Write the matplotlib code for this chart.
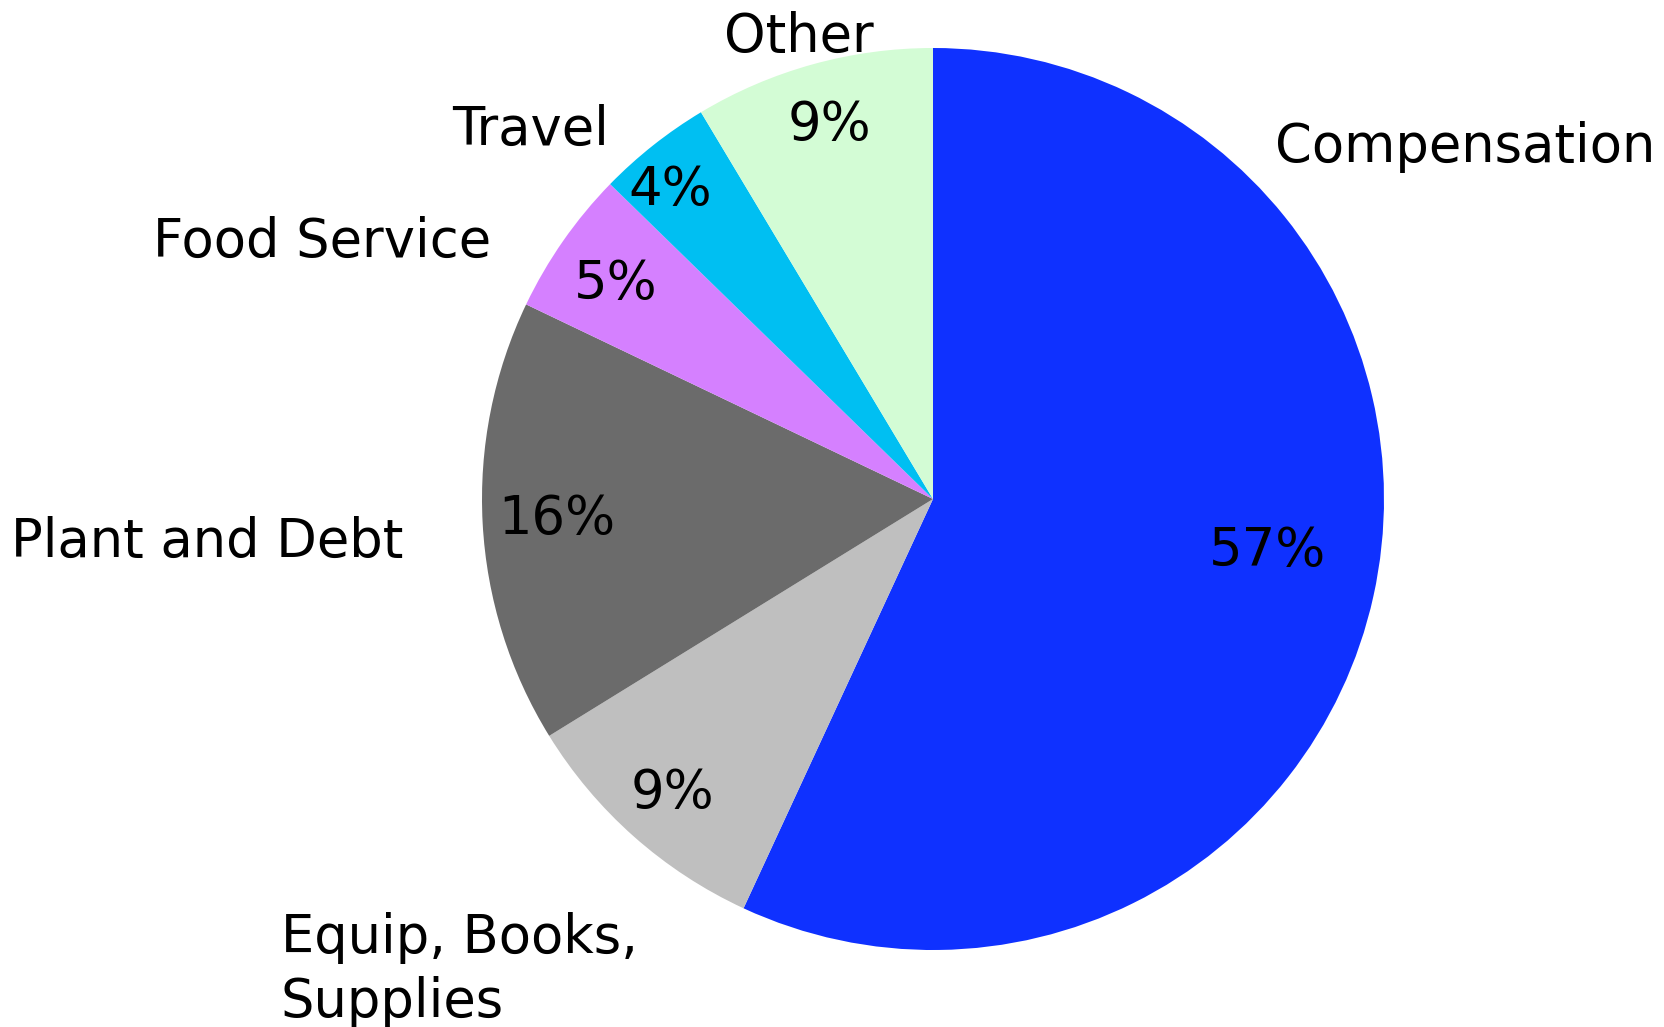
import numpy as np
import matplotlib.pyplot as plt

# data
categories = ["Compensation", "Equip, Books,\nSupplies", "Plant and Debt",
              "Food Service", "Travel", "Other"]
shares = [56.9, 9.3, 15.9, 5.2, 4.1, 8.6]
colors = ["#0f31ff", "#bfbfbf", "#6b6b6b", "#d580ff", "#00bff2", "#d3fcd5"]

# placement of each percent label: distance from centre (fraction of radius)
# and a small angular nudge in degrees
pct_dist = [0.75, 0.87, 0.836, 0.85, 0.9, 0.86]
pct_shift = [3.5, 0, 0, 0.8, 2.0, 0]

W, H = 1665, 1027
fig = plt.figure(figsize=(W / 100, H / 100), dpi=100)
ax = fig.add_axes([0, 0, 1, 1])

cx, cy, r = 933, 528, 451
wedges, texts, autotexts = ax.pie(
    shares, colors=colors, startangle=90, counterclock=False,
    center=(cx, cy), radius=r, frame=False,
    autopct="%.0f%%", pctdistance=1.0,
    wedgeprops=dict(linewidth=0),
    textprops=dict(fontsize=38, color="black"),
)

for w, t, d, s in zip(wedges, autotexts, pct_dist, pct_shift):
    ang = np.deg2rad((w.theta1 + w.theta2) / 2 + s)
    t.set_position((cx + d * r * np.cos(ang), cy + d * r * np.sin(ang)))
    t.set_ha("center")
    t.set_va("center")

# category labels placed around the pie
label_pos = {
    "Compensation": (1465, 880, "center"),
    "Other": (799, 990, "center"),
    "Travel": (531, 897, "center"),
    "Food Service": (322, 785, "center"),
    "Plant and Debt": (207, 485, "center"),
    "Equip, Books,\nSupplies": (281, 57, "left"),
}
for name in categories:
    x, y, ha = label_pos[name]
    ax.text(x, y, name, fontsize=38, ha=ha, va="center", multialignment="left",
            linespacing=1.3)

ax.set_xlim(0, W)
ax.set_ylim(0, H)
ax.set_aspect("equal")
ax.set_axis_off()

fig.savefig("out.png", dpi=100)
